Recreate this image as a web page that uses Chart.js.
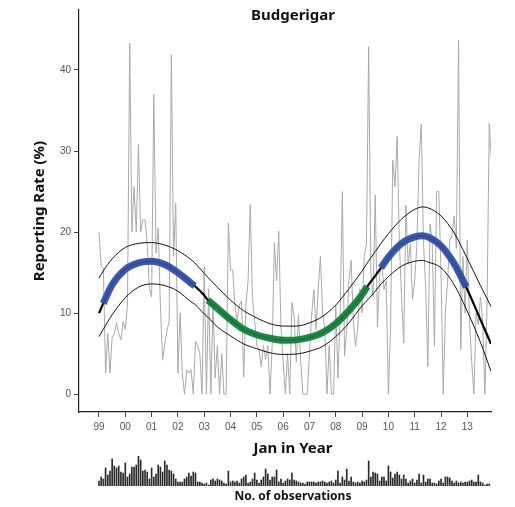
<!DOCTYPE html>
<html>
<head>
<meta charset="utf-8">
<script src="https://cdn.jsdelivr.net/npm/chart.js@4.4.1/dist/chart.umd.min.js"></script>
<style>
  html, body { margin: 0; padding: 0; background: #fff; }
  #wrap { position: relative; width: 515px; height: 507px; }
  #main { position: absolute; left: 0; top: 0; }
  #obs { position: absolute; left: 0; top: 450px; }
</style>
</head>
<body>
<div id="wrap">
  <canvas id="main" width="515" height="507"></canvas>
  <canvas id="obs" width="515" height="57"></canvas>
</div>
<script>
// monthly reporting rate (%), Jan 1999 onwards
var startYear = 1999;
var reportRate = [
  20, 15.8, 15.5, 2.6, 7.5, 2.6, 7, 7.5, 8.8, 7.5, 6.7, 9,          // 1999
  8, 11, 43.3, 20, 25.6, 20, 30.8, 20, 21.5, 21.5, 18.5, 13,         // 2000
  12, 37, 17.4, 20.5, 11, 4.2, 6.2, 7.8, 9, 41.9, 17, 23.6,          // 2001
  2.6, 10, 2.6, 0, 3, 2.6, 3, 0, 6.5, 6, 5, 0,                       // 2002
  15.7, 0, 13, 0, 11, 2, 6, 0, 5, 0, 0, 21.1,                        // 2003
  15.3, 15.3, 11, 9, 11, 11.5, 2.1, 11, 14, 23.4, 11.8, 9,           // 2004
  6, 5.5, 3.4, 6, 4.3, 6, 0, 6, 18.7, 14, 20.1, 8.3,                 // 2005
  4, 0, 5, 0, 11.3, 9.6, 4, 9.8, 4, 0, 0, 0,                         // 2006
  5, 9.8, 12.9, 8, 13, 17, 10, 8, 0, 6, 0, 0,                        // 2007
  11, 2, 10, 25, 4.7, 8, 14, 16.5, 9, 5.9, 8, 13,                    // 2008
  10, 17, 18.5, 42.9, 15, 12, 24.6, 8.3, 14.5, 16.3, 12.9, 14,       // 2009
  0, 8.3, 28.9, 25.6, 31.8, 18.7, 12, 6.3, 23.3, 16, 18.5, 11.7,     // 2010
  14, 18.5, 29, 33.3, 18.7, 13.2, 3.4, 21, 18.7, 5.9, 25, 25,        // 2011
  15, 0, 10, 14, 19, 19.5, 22, 18, 43.7, 5.5, 17, 10,                // 2012
  19, 9, 4, 0, 10, 8.6, 12, 9, 0, 11, 33.4, 28.7                     // 2013
];

// monthly number of observations
var obsCount = [
  5, 9, 7, 18, 11, 15, 27, 20, 18, 20, 14, 13,
  23, 9, 12, 19, 19, 21, 30, 26, 15, 16, 14, 7,
  18, 9, 12, 21, 19, 14, 25, 21, 16, 15, 12, 7,
  4, 4, 4, 7, 9, 13, 10, 14, 13, 4, 4, 3,
  2, 3, 1, 6, 7, 5, 7, 6, 5, 3, 2, 15,
  4, 5, 4, 5, 3, 7, 9, 11, 3, 4, 7, 13,
  6, 3, 6, 9, 17, 12, 6, 9, 9, 16, 4, 7,
  3, 5, 7, 6, 13, 6, 5, 4, 3, 3, 2, 4,
  4, 4, 4, 3, 4, 4, 5, 4, 3, 4, 5, 3,
  6, 15, 3, 9, 6, 17, 5, 9, 4, 3, 4, 3,
  5, 4, 6, 25, 9, 14, 13, 12, 5, 9, 9, 5,
  20, 14, 8, 12, 14, 11, 7, 11, 7, 3, 5, 7,
  3, 6, 12, 3, 11, 4, 7, 7, 3, 3, 2, 5,
  7, 3, 9, 9, 8, 5, 3, 5, 3, 4, 3, 4,
  4, 5, 6, 4, 4, 11, 4, 3, 1, 2, 2
];

// fitted seasonal trend with upper / lower bounds
var fitYears = [1999.0, 1999.16, 1999.5, 2000.0, 2000.5, 2001.0, 2001.5, 2002.0, 2002.5, 2002.64,
  2003.0, 2003.14, 2003.5, 2004.0, 2004.5, 2005.0, 2005.5, 2006.0, 2006.5, 2007.0,
  2007.5, 2008.0, 2008.5, 2009.0, 2009.2, 2009.5, 2009.72, 2010.0, 2010.5, 2011.0,
  2011.3, 2011.5, 2012.0, 2012.5, 2012.96, 2013.5, 2013.9];
var fitMid = [10.0, 11.2, 13.5, 15.4, 16.2, 16.4, 16.0, 15.0, 13.7, 13.35,
  12.2, 11.6, 10.6, 9.2, 8.0, 7.3, 6.9, 6.65, 6.7, 7.0,
  7.6, 8.7, 10.3, 12.3, 13.3, 14.6, 15.6, 16.9, 18.6, 19.4,
  19.55, 19.4, 18.3, 16.1, 13.2, 9.2, 6.2];
var fitUpper = [14.3, 15.2, 16.7, 18.1, 18.6, 18.7, 18.4, 17.7, 16.6, 16.2,
  14.9, 14.4, 13.2, 11.6, 10.3, 9.4, 8.7, 8.4, 8.4, 8.8,
  9.6, 11.0, 13.0, 15.2, 16.2, 17.6, 18.6, 19.8, 21.6, 22.8,
  23.1, 23.0, 22.0, 19.9, 17.0, 13.4, 10.8];
var fitLower = [7.1, 8.0, 9.8, 11.9, 13.2, 13.6, 13.4, 12.7, 11.4, 11.1,
  9.9, 9.5, 8.3, 7.2, 6.2, 5.6, 5.1, 4.9, 4.95, 5.3,
  5.9, 7.1, 8.8, 10.9, 11.6, 12.7, 13.6, 14.5, 15.8, 16.4,
  16.5, 16.3, 15.6, 13.5, 10.5, 6.4, 2.8];

// periods above (blue) and below (green) the long-term rate
var highSpans = [[1999.16, 2002.64], [2009.72, 2012.96]];
var lowSpans = [[2003.14, 2009.2]];

var yTicks = [0, 10, 20, 30, 40];
var xTickYears = [1999, 2000, 2001, 2002, 2003, 2004, 2005, 2006, 2007, 2008, 2009, 2010, 2011, 2012, 2013];
var xTickLabels = ['99', '00', '01', '02', '03', '04', '05', '06', '07', '08', '09', '10', '11', '12', '13'];

var xMin = 1998.24, xMax = 2013.9;

function toPoints(xs, ys) {
  return xs.map(function (x, i) { return {x: x, y: ys[i]}; });
}
function spanPoints(spans) {
  return fitYears.map(function (x, i) {
    var inside = spans.some(function (s) { return x >= s[0] - 1e-6 && x <= s[1] + 1e-6; });
    return {x: x, y: inside ? fitMid[i] : null};
  });
}
var months = reportRate.map(function (v, i) { return startYear + i / 12; });

var textPlugin = {
  id: 'labels',
  afterDraw: function (chart, args, opts) {
    var ctx = chart.ctx;
    ctx.save();
    ctx.fillStyle = '#111';
    ctx.textAlign = 'center';
    ctx.textBaseline = 'middle';
    opts.items.forEach(function (t) {
      ctx.font = t.font;
      ctx.fillText(t.text, t.x, t.y);
    });
    ctx.restore();
  }
};

var tickFont = {family: '"Liberation Sans", Arial, sans-serif', size: 10};
var titleFamily = '"Noto Sans", sans-serif';

var lineBase = {pointRadius: 0, fill: false, spanGaps: false};

new Chart(document.getElementById('main').getContext('2d'), {
  type: 'line',
  data: {
    datasets: [
      Object.assign({}, lineBase, {
        label: 'Reporting rate', data: toPoints(months, reportRate),
        borderColor: '#a9a9a9', borderWidth: 1, tension: 0, order: 5
      }),
      Object.assign({}, lineBase, {
        label: 'Upper', data: toPoints(fitYears, fitUpper),
        borderColor: '#111', borderWidth: 1, cubicInterpolationMode: 'monotone', order: 4
      }),
      Object.assign({}, lineBase, {
        label: 'Lower', data: toPoints(fitYears, fitLower),
        borderColor: '#111', borderWidth: 1, cubicInterpolationMode: 'monotone', order: 4
      }),
      Object.assign({}, lineBase, {
        label: 'Trend', data: toPoints(fitYears, fitMid),
        borderColor: '#000', borderWidth: 2.2, cubicInterpolationMode: 'monotone', order: 3
      }),
      Object.assign({}, lineBase, {
        label: 'High', data: spanPoints(highSpans),
        borderColor: 'rgba(50,80,170,0.95)', borderWidth: 7, borderCapStyle: 'butt',
        cubicInterpolationMode: 'monotone', order: 1
      }),
      Object.assign({}, lineBase, {
        label: 'Low', data: spanPoints(lowSpans),
        borderColor: 'rgba(20,130,60,0.95)', borderWidth: 7, borderCapStyle: 'butt',
        cubicInterpolationMode: 'monotone', order: 1
      })
    ]
  },
  options: {
    responsive: false,
    animation: false,
    layout: {padding: {top: 10, right: 24, left: 0, bottom: 0}},
    plugins: {
      legend: {display: false},
      tooltip: {enabled: false},
      labels: {
        items: [
          {text: 'Budgerigar', x: 293, y: 16, font: 'bold 15px ' + titleFamily},
          {text: 'Jan in Year', x: 293, y: 449, font: 'bold 15px ' + titleFamily}
        ]
      }
    },
    scales: {
      x: {
        type: 'linear', min: xMin, max: xMax,
        afterBuildTicks: function (s) { s.ticks = xTickYears.map(function (v) { return {value: v}; }); },
        afterFit: function (s) { s.height = 95; },
        ticks: {
          font: tickFont, color: '#555', padding: 4, maxRotation: 0, autoSkip: false,
          callback: function (v, i) { return xTickLabels[i]; }
        },
        grid: {display: true, drawOnChartArea: false, drawTicks: true, tickLength: 5, color: '#444'},
        border: {display: true, color: '#222', width: 1.2}
      },
      y: {
        type: 'linear', min: -2.2, max: 47.4,
        afterBuildTicks: function (s) { s.ticks = yTicks.map(function (v) { return {value: v}; }); },
        afterFit: function (s) { s.width = 79; },
        ticks: {font: tickFont, color: '#555', padding: 3},
        grid: {display: true, drawOnChartArea: false, drawTicks: true, tickLength: 5, color: '#444'},
        border: {display: true, color: '#222', width: 1.2},
        title: {
          display: true, text: 'Reporting Rate (%)', color: '#111',
          font: {family: titleFamily, size: 15, weight: 'bold'},
          padding: {top: 31, bottom: 0}
        }
      }
    }
  },
  plugins: [textPlugin]
});

new Chart(document.getElementById('obs').getContext('2d'), {
  type: 'bar',
  data: {
    datasets: [{
      label: 'No. of observations',
      data: obsCount.map(function (v, i) { return {x: startYear + i / 12, y: v}; }),
      backgroundColor: '#2a2a2a',
      barThickness: 1
    }]
  },
  options: {
    responsive: false,
    animation: false,
    layout: {padding: {left: 79, right: 24, top: 6, bottom: 21}},
    plugins: {
      legend: {display: false},
      tooltip: {enabled: false},
      labels: {
        items: [{text: 'No. of observations', x: 293, y: 47, font: 'bold 12px ' + titleFamily}]
      }
    },
    scales: {
      x: {type: 'linear', min: xMin, max: xMax, offset: false, display: false},
      y: {min: 0, max: 30, display: false}
    }
  },
  plugins: [textPlugin]
});
</script>
</body>
</html>
